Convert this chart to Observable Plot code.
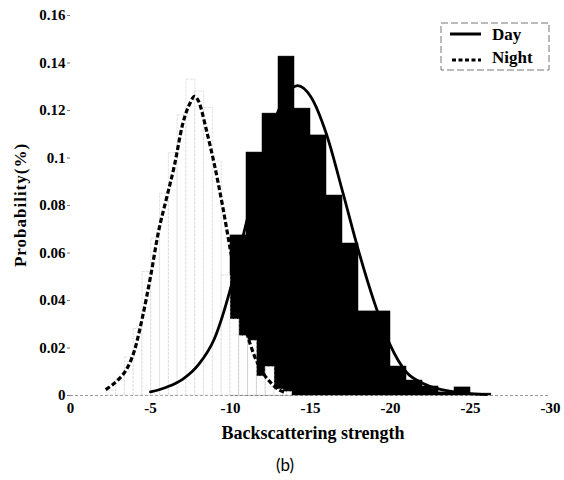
<!DOCTYPE html>
<html>
<head>
<meta charset="utf-8">
<script src="https://cdn.jsdelivr.net/npm/d3@7"></script>
<script src="https://cdn.jsdelivr.net/npm/@observablehq/plot@0.6"></script>
<style>
  html, body { margin: 0; padding: 0; background: #fff; }
  #chart { width: 564px; }
  #caption { width: 564px; height: 32px; position: relative; font-family: Lato, "Open Sans", sans-serif; font-size: 17px; color: #000; }
  #caption span { position: absolute; left: 276px; top: 6px; }
</style>
</head>
<body>
<div id="chart"></div>
<div id="caption"><span>(b)</span></div>
<script>
// ---- data ----
const xTicks = [0, -5, -10, -15, -20, -25, -30];
const xTickLabels = ["0", "-5", "-10", "-15", "-20", "-25", "-30"];
const yTicks = [0, 0.02, 0.04, 0.06, 0.08, 0.1, 0.12, 0.14, 0.16];
const yTickLabels = ["0", "0.02", "0.04", "0.06", "0.08", "0.1", "0.12", "0.14", "0.16"];

// Day histogram (bin edges, probability per bin)
const dayEdges = [-10, -11, -12, -13, -14, -15, -16, -17, -18, -19, -20, -21, -22, -23, -24, -25, -26.3];
const dayProb = [0.0674, 0.1023, 0.1187, 0.1427, 0.1208, 0.1095, 0.0842, 0.064, 0.0354, 0.0354, 0.0122, 0.0063, 0.0038, 0.0013, 0.0034, 0.0008];

// Night histogram
const nightEdges = [-2.3, -2.85, -3.4, -3.95, -4.5, -5.05, -5.6, -6.15, -6.7, -7.25, -7.8, -8.35, -8.9, -9.45, -10, -10.55, -11.1, -11.65, -12.2, -12.75, -13.3, -13.85];
const nightProb = [0.002, 0.0063, 0.016, 0.028, 0.052, 0.066, 0.085, 0.102, 0.118, 0.133, 0.128, 0.121, 0.0985, 0.0505, 0.032, 0.025, 0.023, 0.008, 0.012, 0.0025, 0.0015];

// Fitted curves
const dayCurveX = [-5, -6, -7, -8, -9, -10, -11, -12, -13, -14.2, -15, -16, -17, -18, -19, -20, -21, -22, -23, -24, -25, -26];
const dayCurveY = [0.0015, 0.0035, 0.0068, 0.013, 0.024, 0.045, 0.073, 0.098, 0.12, 0.1305, 0.126, 0.11, 0.086, 0.061, 0.039, 0.021, 0.0098, 0.0052, 0.0028, 0.0015, 0.0008, 0.0004];
const nightCurveX = [-2.2, -3, -3.5, -4, -4.5, -5, -5.5, -6, -6.5, -7, -7.5, -7.75, -8, -8.5, -9, -9.5, -10, -10.5, -11, -11.5, -12, -12.5, -13, -13.5];
const nightCurveY = [0.0025, 0.0068, 0.011, 0.019, 0.033, 0.05, 0.069, 0.083, 0.097, 0.114, 0.1235, 0.126, 0.124, 0.1116, 0.097, 0.08, 0.061, 0.043, 0.027, 0.0166, 0.0098, 0.0055, 0.0025, 0.0012];

const legendItems = ["Day", "Night"];
const xLabel = "Backscattering strength";
const yLabel = "Probability(%)";

// ---- build tables ----
const dayBars = dayProb.map((p, i) => ({x1: dayEdges[i], x2: dayEdges[i + 1], p}));
const nightBars = nightProb.map((p, i) => ({x1: nightEdges[i], x2: nightEdges[i + 1], p}));
const dayCurve = dayCurveX.map((x, i) => ({x, y: dayCurveY[i]}));
const nightCurve = nightCurveX.map((x, i) => ({x, y: nightCurveY[i]}));

const serif = "'Liberation Serif', 'Times New Roman', serif";

const plot = Plot.plot({
  width: 564,
  height: 448,
  marginLeft: 70,
  marginRight: 14,
  marginTop: 15,
  marginBottom: 53,
  style: {fontFamily: serif, fontSize: "15px", fontWeight: "bold", background: "#fff", color: "#000"},
  x: {domain: [0, -30]},
  y: {domain: [0, 0.16]},
  marks: [
    Plot.ruleY([0], {stroke: "#999", strokeDasharray: "3,2", strokeWidth: 1}),
    Plot.rectY(dayBars, {x1: "x1", x2: "x2", y: "p", fill: "#000", stroke: "#000", strokeWidth: 0.5, inset: 0}),
    Plot.rectY(nightBars, {x1: "x1", x2: "x2", y: "p", fill: "#fff", stroke: "#d6d6d6", strokeWidth: 0.7, strokeDasharray: "3,1", inset: 0}),
    Plot.line(nightCurve, {x: "x", y: "y", stroke: "#000", strokeWidth: 3.2, strokeDasharray: "5,2.5", strokeLinecap: "butt", curve: "monotone-x"}),
    Plot.line(dayCurve, {x: "x", y: "y", stroke: "#000", strokeWidth: 2.8, curve: "monotone-x"}),
    Plot.axisX({ticks: xTicks, tickFormat: (d) => xTickLabels[xTicks.indexOf(d)], tickSize: 0, tickPadding: 7, label: null}),
    Plot.axisY({ticks: yTicks, tickFormat: (d) => yTickLabels[yTicks.indexOf(d)], tickSize: 3, tickPadding: 2, stroke: "#777", label: null})
  ]
});

document.getElementById("chart").appendChild(plot);

// axis titles and legend
const svg = d3.select(plot);
svg.append("text")
  .attr("x", 313).attr("y", 439)
  .attr("text-anchor", "middle")
  .style("font-family", serif).style("font-weight", "bold").style("font-size", "18px")
  .text(xLabel);
svg.append("text")
  .attr("transform", "translate(26,205) rotate(-90)")
  .attr("text-anchor", "middle")
  .style("font-family", serif).style("font-weight", "bold").style("font-size", "17px")
  .style("letter-spacing", "1px")
  .text(yLabel);

const lg = svg.append("g");
lg.append("rect").attr("x", 441).attr("y", 23).attr("width", 108).attr("height", 47)
  .attr("fill", "#fff").attr("stroke", "#777").attr("stroke-width", 1).attr("stroke-dasharray", "7,3");
lg.append("line").attr("x1", 450).attr("x2", 481).attr("y1", 34).attr("y2", 34)
  .attr("stroke", "#000").attr("stroke-width", 3);
lg.append("line").attr("x1", 452).attr("x2", 481).attr("y1", 60).attr("y2", 60)
  .attr("stroke", "#000").attr("stroke-width", 3).attr("stroke-dasharray", "4,2.5");
legendItems.forEach((t, i) => {
  lg.append("text").attr("x", 492).attr("y", 40 + i * 23)
    .attr("text-anchor", "start")
    .style("font-family", serif).style("font-weight", "bold").style("font-size", "17px")
    .text(t);
});
</script>
</body>
</html>
